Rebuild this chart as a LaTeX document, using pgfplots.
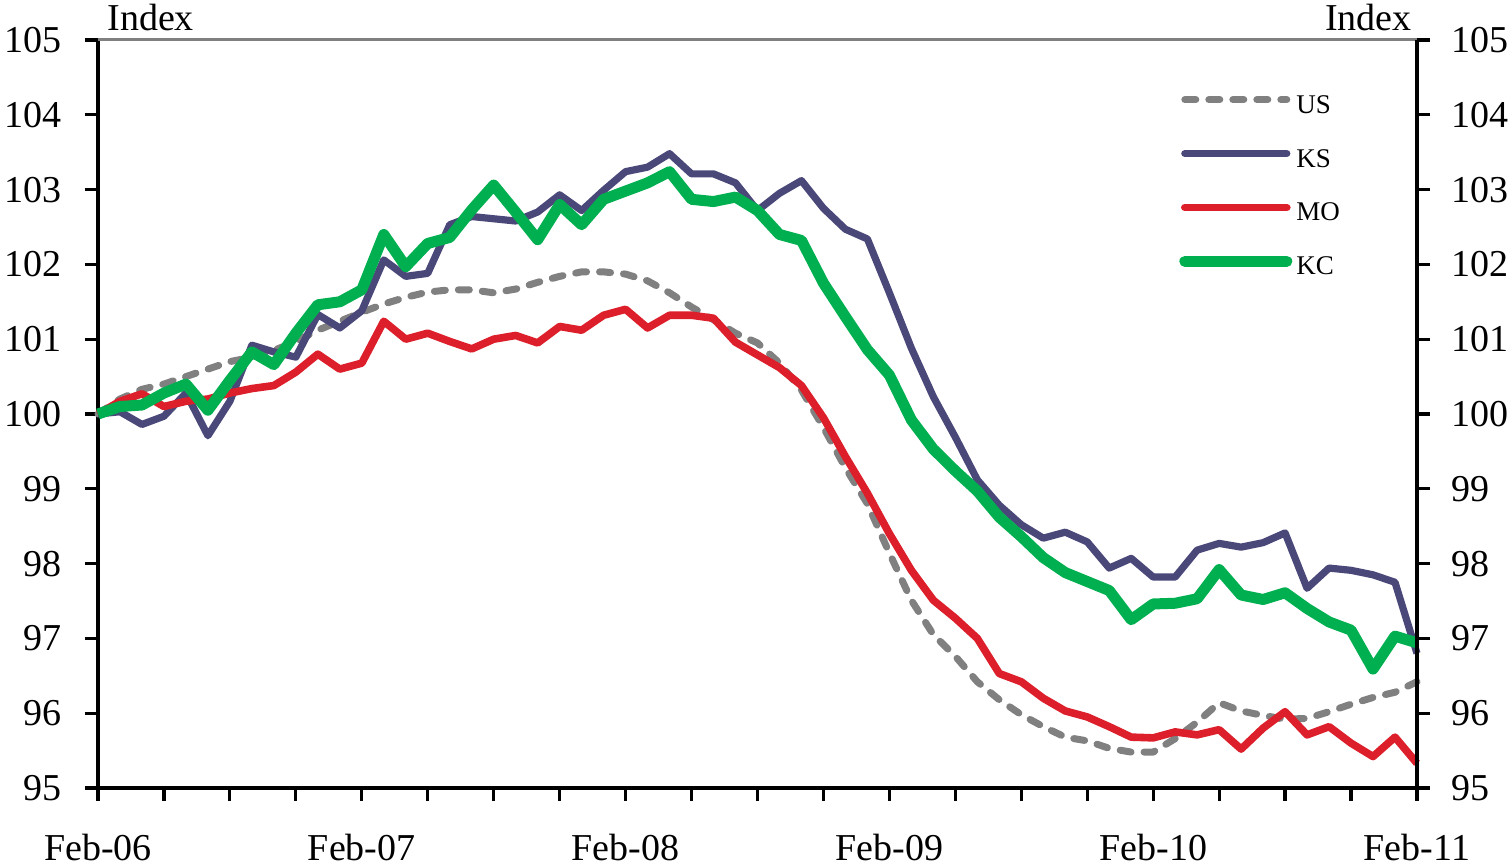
\documentclass[border=0pt]{standalone}
\usepackage{pgfplots}
\pgfplotsset{compat=1.18}
\usepackage{pgfplotstable}
\usepackage{fontspec}
\setmainfont{Liberation Serif}
\definecolor{usgray}{HTML}{808080}
\definecolor{ksblue}{HTML}{4A4879}
\definecolor{mored}{HTML}{DC1F2A}
\definecolor{kcgreen}{HTML}{00B050}

\pgfplotstableread{
i US KS MO KC
0 100.00 100.00 100.00 100.00
1 100.20 100.03 100.17 100.10
2 100.33 99.86 100.27 100.12
3 100.40 99.97 100.10 100.28
4 100.50 100.28 100.17 100.40
5 100.60 99.71 100.20 100.05
6 100.70 100.17 100.28 100.45
7 100.76 100.92 100.34 100.83
8 100.85 100.83 100.38 100.66
9 100.97 100.76 100.56 101.08
10 101.12 101.33 100.80 101.46
11 101.24 101.15 100.60 101.50
12 101.36 101.38 100.68 101.66
13 101.47 102.06 101.24 102.40
14 101.56 101.84 101.00 101.97
15 101.63 101.88 101.08 102.28
16 101.66 102.53 100.97 102.36
17 101.66 102.64 100.87 102.73
18 101.62 102.61 101.00 103.06
19 101.67 102.58 101.05 102.70
20 101.76 102.70 100.95 102.33
21 101.84 102.93 101.17 102.80
22 101.90 102.72 101.12 102.53
23 101.90 102.99 101.32 102.87
24 101.87 103.24 101.40 102.98
25 101.78 103.30 101.15 103.09
26 101.62 103.48 101.32 103.24
27 101.43 103.21 101.32 102.87
28 101.26 103.21 101.28 102.84
29 101.08 103.09 100.96 102.90
30 100.95 102.72 100.79 102.72
31 100.68 102.95 100.62 102.40
32 100.32 103.12 100.38 102.32
33 99.82 102.75 99.95 101.75
34 99.28 102.47 99.43 101.30
35 98.80 102.34 98.94 100.86
36 98.14 101.62 98.40 100.52
37 97.51 100.88 97.91 99.92
38 97.05 100.23 97.51 99.53
39 96.76 99.69 97.27 99.24
40 96.42 99.12 97.00 98.97
41 96.18 98.78 96.53 98.62
42 95.98 98.52 96.42 98.36
43 95.82 98.34 96.20 98.08
44 95.68 98.42 96.03 97.88
45 95.63 98.29 95.95 97.76
46 95.53 97.94 95.82 97.64
47 95.48 98.07 95.68 97.25
48 95.48 97.82 95.67 97.46
49 95.66 97.82 95.75 97.47
50 95.88 98.18 95.71 97.53
51 96.14 98.27 95.78 97.92
52 96.03 98.22 95.52 97.58
53 95.97 98.28 95.80 97.52
54 95.92 98.41 96.02 97.61
55 95.93 97.67 95.71 97.40
56 96.02 97.94 95.82 97.22
57 96.12 97.91 95.60 97.11
58 96.21 97.85 95.42 96.59
59 96.28 97.75 95.68 97.03
60 96.42 96.80 95.33 96.94
}\datatable

\begin{document}
\begin{tikzpicture}
\begin{axis}[
  at={(0,0)}, anchor=south west,
  scale only axis, width=659.5pt, height=374pt,
  xmin=0, xmax=60, ymin=95, ymax=105,
  clip=false,
  axis x line*=bottom, axis y line*=left,
  axis line style={line width=2pt, -},
  xtick={0,3,...,60},
  xticklabels={Feb-06,,,,Feb-07,,,,Feb-08,,,,Feb-09,,,,Feb-10,,,,Feb-11},
  ytick={95,96,...,105},
  tick align=outside,
  major tick length=6.5pt,
  tick style={line width=1.6pt, black},
  ticklabel style={font=\fontsize{19}{22}\selectfont},
  /pgf/number format/assume math mode=true,
  yticklabel style={xshift=-8pt},
  xticklabel style={yshift=-13pt},
  legend cell align=left,
  legend style={at={(rel axis cs:0.8195,0.932)}, anchor=north west, draw=none, fill=none,
    font=\fontsize{13.5}{15}\selectfont, row sep=12.5pt, inner sep=0pt,
    /tikz/every even column/.append style={column sep=5pt}},
  legend image code/.code={\draw[#1, line cap=round] (0pt,3pt) -- (51pt,3pt);},
]
\draw[usgray, line width=1.5pt] (rel axis cs:0,1) -- (rel axis cs:1,1);
\addplot[usgray, line width=3.5pt, line cap=round, line join=round, dash pattern=on 5.5pt off 6.5pt] table[x=i, y=US] {\datatable};
\addlegendentry{US}
\addplot[ksblue, line width=3.6pt, line join=round] table[x=i, y=KS] {\datatable};
\addlegendentry{KS}
\addplot[mored, line width=3.8pt, line join=round] table[x=i, y=MO] {\datatable};
\addlegendentry{MO}
\addplot[kcgreen, line width=5.5pt, line join=round] table[x=i, y=KC] {\datatable};
\addlegendentry{KC}
\node[anchor=base west, inner sep=0pt, font=\fontsize{19}{22}\selectfont] at ([shift={(4.5pt,4.8pt)}]rel axis cs:0,1) {Index};
\node[anchor=base east, inner sep=0pt, font=\fontsize{19}{22}\selectfont] at ([shift={(-2.5pt,4.8pt)}]rel axis cs:1,1) {Index};
\end{axis}
\begin{axis}[
  at={(0,0)}, anchor=south west,
  scale only axis, width=659.5pt, height=374pt,
  xmin=0, xmax=60, ymin=95, ymax=105,
  axis x line=none, axis y line*=right,
  axis line style={line width=2pt, -},
  ytick={95,96,...,105},
  tick align=outside,
  major tick length=6.5pt,
  tick style={line width=1.6pt, black},
  ticklabel style={font=\fontsize{19}{22}\selectfont},
  /pgf/number format/assume math mode=true,
  yticklabel style={xshift=7pt},
]
\end{axis}
\pgfresetboundingbox
\path[use as bounding box] (-49pt,-39pt) rectangle (707pt,394pt);
\end{tikzpicture}
\end{document}
